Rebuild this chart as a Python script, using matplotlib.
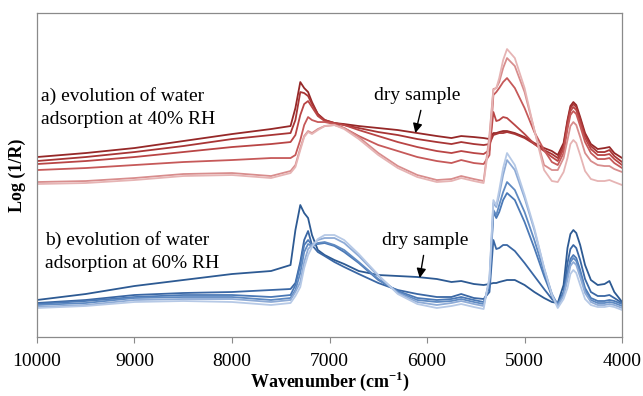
import numpy as np
import matplotlib.pyplot as plt

plt.rcParams['font.family'] = 'Liberation Serif'
plt.rcParams['font.size'] = 14
plt.rcParams['mathtext.fontset'] = 'custom'
plt.rcParams['mathtext.rm'] = 'Liberation Serif'
plt.rcParams['mathtext.bf'] = 'Liberation Serif:bold'

# wavenumber nodes (cm-1)
wavenumber = [10000, 9500, 9000, 8500, 8000, 7600, 7400, 7350, 7300, 7260,
              7220, 7180, 7120, 7050, 6950, 6850, 6700, 6500, 6300, 6100,
              5900, 5750, 5650, 5520, 5420, 5360, 5320, 5290, 5260, 5220,
              5180, 5100, 5000, 4900, 4800, 4720, 4660, 4600, 4560, 4530,
              4500, 4470, 4430, 4380, 4320, 4250, 4180, 4130, 4080, 4000]

# a) 40% RH, dry sample first (arbitrary offset units)
rh40_dry = [180, 184, 189, 196, 203, 208, 211, 229, 255, 249, 245, 235, 223, 217, 214, 213, 211, 209, 207, 204,
            201, 199, 201, 200, 199, 198, 204, 204, 205, 206, 206, 204, 200, 194, 189, 186, 182, 194, 217, 231,
            235, 232, 220, 204, 193, 188, 189, 190, 184, 179]
rh40_t1 = [176, 180, 185, 191, 198, 202, 204, 217, 245, 244, 241, 233, 223, 217, 214, 212, 209, 205, 202, 198,
           195, 193, 195, 193, 192, 193, 202, 203, 204, 204, 205, 203, 199, 193, 187, 183, 179, 191, 215, 229,
           233, 230, 218, 202, 191, 185, 185, 187, 181, 175]
rh40_t2 = [173, 176, 180, 185, 190, 193, 195, 202, 222, 233, 236, 230, 221, 216, 214, 212, 207, 201, 195, 190,
           186, 184, 186, 184, 183, 187, 225, 216, 217, 220, 219, 212, 203, 193, 186, 180, 176, 188, 212, 226,
           230, 227, 215, 199, 188, 182, 182, 183, 178, 172]
rh40_t3 = [167, 169, 172, 175, 177, 179, 179, 182, 197, 212, 220, 217, 215, 215, 213, 209, 201, 192, 186, 180,
           176, 174, 177, 174, 173, 182, 242, 245, 249, 255, 259, 249, 229, 205, 187, 175, 172, 184, 208, 222,
           226, 223, 211, 195, 184, 178, 178, 179, 174, 169]
rh40_t4 = [155, 156, 159, 163, 164, 161, 166, 172, 189, 201, 206, 204, 208, 211, 212, 209, 200, 184, 171, 162,
           157, 158, 161, 158, 156, 202, 248, 249, 255, 269, 279, 271, 245, 207, 172, 167, 167, 179, 197, 211,
           215, 212, 200, 184, 176, 172, 171, 171, 168, 165]
rh40_t5 = [153, 154, 157, 161, 162, 159, 164, 170, 187, 200, 205, 203, 207, 211, 212, 208, 198, 182, 169, 160,
           155, 156, 159, 156, 154, 197, 247, 249, 259, 277, 288, 279, 249, 207, 167, 156, 155, 165, 179, 193,
           197, 194, 182, 166, 158, 156, 156, 157, 155, 152]

# b) 60% RH, dry sample first
rh60_dry = [37, 43, 51, 57, 63, 66, 72, 107, 132, 124, 119, 102, 87, 82, 77, 73, 66, 62, 61, 60,
            58, 55, 56, 53, 52, 53, 54, 54, 55, 56, 57, 57, 52, 45, 39, 35, 34, 52, 89, 103,
            107, 104, 92, 72, 57, 52, 53, 56, 45, 35]
rh60_t1 = [34, 37, 42, 44, 45, 47, 48, 54, 75, 97, 106, 92, 85, 81, 75, 70, 63, 54, 47, 43,
           40, 40, 43, 39, 38, 45, 97, 88, 89, 92, 92, 86, 74, 61, 48, 38, 33, 45, 74, 88,
           92, 89, 77, 58, 45, 41, 41, 42, 39, 34]
rh60_t2 = [33, 36, 40, 42, 42, 40, 42, 52, 72, 92, 97, 92, 93, 94, 91, 85, 74, 57, 46, 39,
           37, 38, 40, 37, 35, 50, 125, 119, 125, 137, 144, 137, 115, 89, 61, 41, 33, 44, 64, 78,
           82, 79, 67, 49, 39, 36, 36, 37, 36, 33]
rh60_t3 = [32, 34, 39, 40, 40, 37, 39, 47, 64, 85, 93, 91, 94, 95, 92, 87, 75, 58, 45, 37,
           35, 36, 38, 35, 33, 55, 127, 122, 132, 145, 155, 147, 125, 97, 65, 43, 32, 43, 61, 75,
           79, 76, 64, 47, 37, 34, 34, 35, 34, 31]
rh60_t4 = [30, 32, 37, 38, 38, 35, 37, 45, 55, 75, 88, 92, 97, 99, 99, 94, 81, 61, 44, 35,
           32, 34, 36, 33, 31, 58, 134, 130, 142, 162, 177, 167, 139, 107, 69, 43, 31, 41, 57, 71,
           75, 72, 60, 44, 35, 32, 32, 33, 32, 29]
rh60_t5 = [29, 31, 35, 36, 35, 32, 34, 41, 50, 69, 82, 90, 98, 102, 102, 97, 83, 62, 43, 33,
           29, 31, 33, 30, 28, 60, 137, 132, 147, 169, 184, 172, 142, 109, 69, 42, 29, 38, 49, 63,
           67, 64, 52, 38, 32, 30, 30, 31, 30, 27]

red_series = [rh40_dry, rh40_t1, rh40_t2, rh40_t3, rh40_t4, rh40_t5]
blue_series = [rh60_dry, rh60_t1, rh60_t2, rh60_t3, rh60_t4, rh60_t5]
red_colors = ['#962828', '#A83535', '#B94545', '#C65959', '#D88D8D', '#E6B4B4']
blue_colors = ['#2D5A93', '#3A67A4', '#4B79B6', '#5F8AC2', '#8EABD6', '#B6C9E6']

fig = plt.figure(figsize=(6.43, 3.96), dpi=100)
ax = fig.add_axes([0.0575, 0.149, 0.910, 0.818])

for y, c in zip(red_series, red_colors):
    ax.plot(wavenumber, y, color=c, lw=1.3)
for y, c in zip(blue_series, blue_colors):
    ax.plot(wavenumber, y, color=c, lw=1.3)

ax.set_xlim(10000, 4000)
ax.set_ylim(0, 324)
ax.set_xticks(np.arange(10000, 3999, -1000))
ax.set_yticks([])
ax.tick_params(axis='x', direction='out', length=4.5, width=0.8, color='#8a8a8a', pad=7)
for s in ax.spines.values():
    s.set_color('#8a8a8a')
    s.set_linewidth(0.9)

ax.set_xlabel('Wavenumber (cm$^{\\mathbf{-1}}$)', fontweight='bold', fontsize=13, labelpad=0)
ax.set_ylabel('Log (1/R)', fontweight='bold', fontsize=13, labelpad=8)

ax.text(9960, 250, 'a) evolution of water\nadsorption at 40% RH', ha='left', va='top',
        linespacing=1.45)
ax.text(9918, 106, 'b) evolution of water\nadsorption at 60% RH', ha='left', va='top',
        linespacing=1.45)

arrow = dict(arrowstyle='-|>', color='black', lw=1, mutation_scale=14, shrinkA=3, shrinkB=0)
ax.annotate('dry sample', xy=(6120, 204), xytext=(6100, 242), ha='center', va='center',
            arrowprops=dict(arrow, relpos=(0.56, 0)))
ax.annotate('dry sample', xy=(6075, 59), xytext=(6015, 97), ha='center', va='center',
            arrowprops=dict(arrow, relpos=(0.49, 0)))

plt.savefig('out.png', dpi=100)
